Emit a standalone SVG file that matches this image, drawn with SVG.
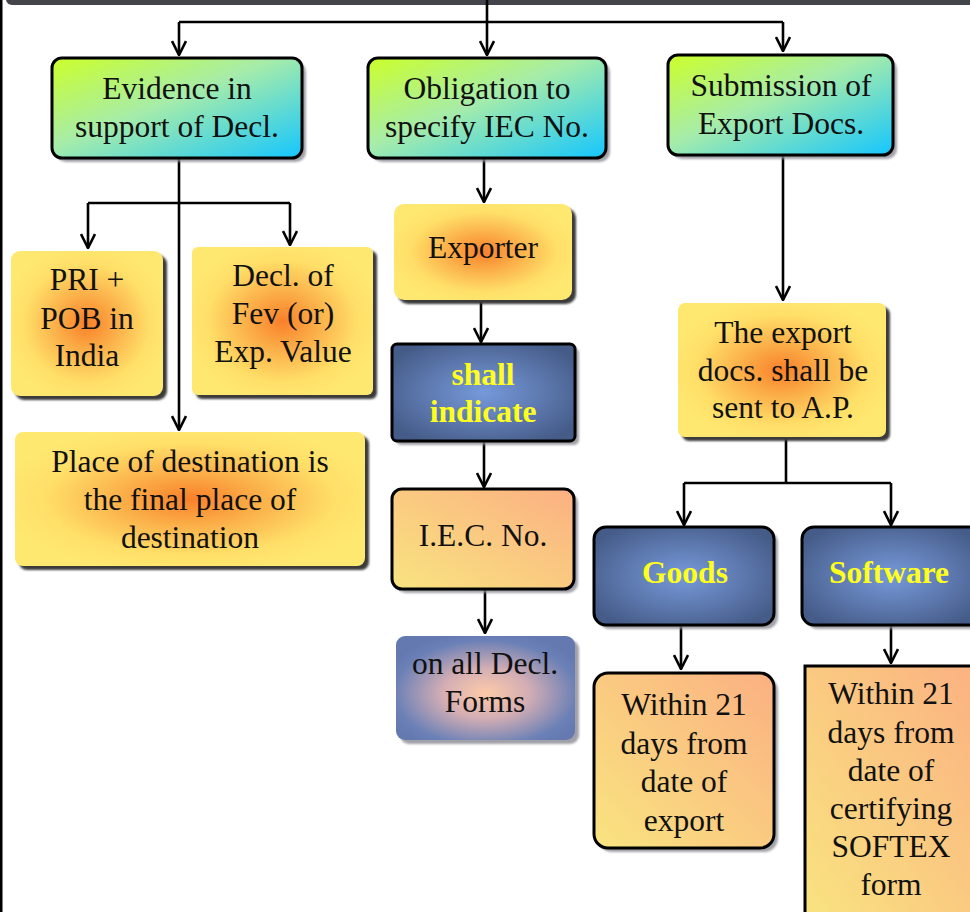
<svg xmlns="http://www.w3.org/2000/svg" width="970" height="912" viewBox="0 0 970 912">
  <defs>
    <linearGradient id="gGreen" x1="0" y1="0" x2="1" y2="1">
      <stop offset="0" stop-color="#ccff2a"/>
      <stop offset="0.45" stop-color="#a6ecaa"/>
      <stop offset="1" stop-color="#14c6ff"/>
    </linearGradient>
    <radialGradient id="gSun" cx="0.5" cy="0.5" r="0.55">
      <stop offset="0" stop-color="#f9802a"/>
      <stop offset="0.35" stop-color="#fbae48"/>
      <stop offset="0.75" stop-color="#ffdf68"/>
      <stop offset="1" stop-color="#ffe870"/>
    </radialGradient>
    <radialGradient id="gNavy" cx="0.5" cy="0.5" r="0.6">
      <stop offset="0" stop-color="#7699da"/>
      <stop offset="0.6" stop-color="#5a75aa"/>
      <stop offset="1" stop-color="#455c88"/>
    </radialGradient>
    <radialGradient id="gDusk" cx="0.5" cy="0.55" r="0.6">
      <stop offset="0" stop-color="#fdcaa8"/>
      <stop offset="0.4" stop-color="#d4aeb4"/>
      <stop offset="0.85" stop-color="#6a80b6"/>
      <stop offset="1" stop-color="#6479b0"/>
    </radialGradient>
    <linearGradient id="gPeach" x1="0" y1="1" x2="1" y2="0">
      <stop offset="0" stop-color="#f9e480"/>
      <stop offset="1" stop-color="#fbb082"/>
    </linearGradient>
    <filter id="soft" x="-5%" y="-5%" width="110%" height="110%">
      <feGaussianBlur stdDeviation="0.8"/>
    </filter>
    <marker id="arrow" viewBox="0 0 16 16" refX="15" refY="8" markerWidth="16" markerHeight="16" markerUnits="userSpaceOnUse" orient="auto">
      <path d="M1,1 L15,8 L1,15" fill="none" stroke="#000" stroke-width="2.6"/>
    </marker>
  </defs>
  <style>
    .txt { font-family: "Liberation Serif", "Times New Roman", serif; font-size: 31.5px; fill: #111; text-anchor: middle; }
    .bold { font-weight: bold; fill: #ffff1e; }
    .edge { stroke: #000; stroke-width: 3; }
    .shadow { fill: #3a3a3a; filter: url(#soft); }
    .shadowLite { fill: #8a8a94; opacity: 0.8; filter: url(#soft); }
    .wire { fill: none; stroke: #000; stroke-width: 2.6; }
  </style>

  <rect width="970" height="912" fill="#fff"/>

  <!-- frame -->
  <rect x="0" y="0" width="2.5" height="912" fill="#000"/>
  <rect x="6" y="-12" width="990" height="17" rx="6" fill="#44444c"/>

  <!-- connectors -->
  <g id="connectors">
    <path class="wire" d="M487,0 V55" marker-end="url(#arrow)"/>
    <path class="wire" d="M179,22 H783" />
    <path class="wire" d="M179,22 V55" marker-end="url(#arrow)"/>
    <path class="wire" d="M783,22 V51" marker-end="url(#arrow)"/>

    <path class="wire" d="M179,158 V430" marker-end="url(#arrow)"/>
    <path class="wire" d="M88,203 H290"/>
    <path class="wire" d="M88,203 V248" marker-end="url(#arrow)"/>
    <path class="wire" d="M290,203 V245" marker-end="url(#arrow)"/>

    <path class="wire" d="M484,158 V202" marker-end="url(#arrow)"/>
    <path class="wire" d="M481,300 V342" marker-end="url(#arrow)"/>
    <path class="wire" d="M484,441 V487" marker-end="url(#arrow)"/>
    <path class="wire" d="M485,589 V633" marker-end="url(#arrow)"/>

    <path class="wire" d="M783,155 V300" marker-end="url(#arrow)"/>
    <path class="wire" d="M786,437 V483"/>
    <path class="wire" d="M684,483 H891"/>
    <path class="wire" d="M684,483 V525" marker-end="url(#arrow)"/>
    <path class="wire" d="M891,483 V525" marker-end="url(#arrow)"/>
    <path class="wire" d="M681,625 V669" marker-end="url(#arrow)"/>
    <path class="wire" d="M891,625 V663" marker-end="url(#arrow)"/>
  </g>

  <!-- top level -->
  <g id="evidence">
    <rect class="shadowLite" x="56" y="62" width="250" height="100" rx="10"/>
    <rect class="edge" x="52" y="58" width="250" height="100" rx="10" fill="url(#gGreen)"/>
    <text class="txt" x="177" y="99">Evidence in</text>
    <text class="txt" x="177" y="137">support of Decl.</text>
  </g>
  <g id="obligation">
    <rect class="shadowLite" x="372" y="62" width="238" height="100" rx="10"/>
    <rect class="edge" x="368" y="58" width="238" height="100" rx="10" fill="url(#gGreen)"/>
    <text class="txt" x="487" y="99">Obligation to</text>
    <text class="txt" x="487" y="137">specify IEC No.</text>
  </g>
  <g id="submission">
    <rect class="shadowLite" x="672" y="59" width="225" height="100" rx="10"/>
    <rect class="edge" x="668" y="55" width="225" height="100" rx="10" fill="url(#gGreen)"/>
    <text class="txt" x="781" y="96">Submission of</text>
    <text class="txt" x="781" y="134">Export Docs.</text>
  </g>

  <!-- evidence branch -->
  <g id="pri-pob">
    <rect class="shadow" x="15" y="255" width="152" height="145" rx="9"/>
    <rect x="11" y="251" width="152" height="145" rx="9" fill="url(#gSun)"/>
    <text class="txt" x="87" y="290">PRI +</text>
    <text class="txt" x="87" y="329">POB in</text>
    <text class="txt" x="87" y="366">India</text>
  </g>
  <g id="fev-decl">
    <rect class="shadow" x="196" y="251" width="181" height="148" rx="6"/>
    <rect x="192" y="247" width="181" height="148" rx="6" fill="url(#gSun)"/>
    <text class="txt" x="283" y="286">Decl. of</text>
    <text class="txt" x="283" y="324">Fev (or)</text>
    <text class="txt" x="283" y="362">Exp. Value</text>
  </g>
  <g id="destination">
    <rect class="shadow" x="19" y="436" width="350" height="134" rx="8"/>
    <rect x="15" y="432" width="350" height="134" rx="8" fill="url(#gSun)"/>
    <text class="txt" x="190" y="472">Place of destination is</text>
    <text class="txt" x="190" y="510">the final place of</text>
    <text class="txt" x="190" y="548">destination</text>
  </g>

  <!-- IEC branch -->
  <g id="exporter">
    <rect class="shadow" x="398" y="208" width="178" height="96" rx="10"/>
    <rect x="394" y="204" width="178" height="96" rx="10" fill="url(#gSun)"/>
    <text class="txt" x="483" y="258">Exporter</text>
  </g>
  <g id="shall-indicate">
    <rect class="shadowLite" x="396" y="348" width="183" height="97" rx="5"/>
    <rect class="edge" x="392" y="344" width="183" height="97" rx="5" fill="url(#gNavy)"/>
    <text class="txt bold" x="483" y="385">shall</text>
    <text class="txt bold" x="483" y="422">indicate</text>
  </g>
  <g id="iec-no">
    <rect class="shadowLite" x="396" y="493" width="182" height="100" rx="10"/>
    <rect class="edge" x="392" y="489" width="182" height="100" rx="10" fill="url(#gPeach)"/>
    <text class="txt" x="483" y="546">I.E.C. No.</text>
  </g>
  <g id="decl-forms">
    <rect class="shadowLite" x="400" y="640" width="179" height="104" rx="9"/>
    <rect x="396" y="636" width="179" height="104" rx="9" fill="url(#gDusk)"/>
    <text class="txt" x="485" y="674">on all Decl.</text>
    <text class="txt" x="485" y="712">Forms</text>
  </g>

  <!-- submission branch -->
  <g id="sent-to-ap">
    <rect class="shadow" x="682" y="307" width="208" height="134" rx="7"/>
    <rect x="678" y="303" width="208" height="134" rx="7" fill="url(#gSun)"/>
    <text class="txt" x="783" y="343">The export</text>
    <text class="txt" x="783" y="381">docs. shall be</text>
    <text class="txt" x="783" y="418">sent to A.P.</text>
  </g>
  <g id="goods">
    <rect class="shadowLite" x="598" y="531" width="180" height="98" rx="12"/>
    <rect class="edge" x="594" y="527" width="180" height="98" rx="12" fill="url(#gNavy)"/>
    <text class="txt bold" x="685" y="583">Goods</text>
  </g>
  <g id="software">
    <rect class="shadowLite" x="806" y="531" width="180" height="98" rx="12"/>
    <rect class="edge" x="802" y="527" width="180" height="98" rx="12" fill="url(#gNavy)"/>
    <text class="txt bold" x="889" y="583">Software</text>
  </g>
  <g id="goods-deadline">
    <rect class="shadowLite" x="598" y="677" width="180" height="175" rx="14"/>
    <rect class="edge" x="594" y="673" width="180" height="175" rx="14" fill="url(#gPeach)"/>
    <text class="txt" x="684" y="715">Within 21</text>
    <text class="txt" x="684" y="754">days from</text>
    <text class="txt" x="684" y="792">date of</text>
    <text class="txt" x="684" y="831">export</text>
  </g>
  <g id="software-deadline">
    <rect class="edge" x="805" y="666" width="180" height="260" fill="url(#gPeach)"/>
    <text class="txt" x="891" y="704">Within 21</text>
    <text class="txt" x="891" y="743">days from</text>
    <text class="txt" x="891" y="781">date of</text>
    <text class="txt" x="891" y="819">certifying</text>
    <text class="txt" x="891" y="857">SOFTEX</text>
    <text class="txt" x="891" y="895">form</text>
  </g>
</svg>
